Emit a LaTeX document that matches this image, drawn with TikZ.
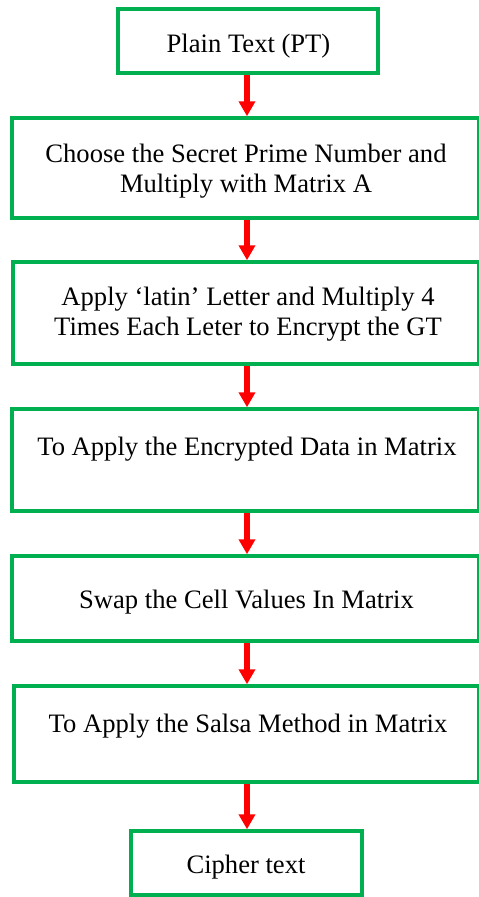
\documentclass[tikz,border=0pt]{standalone}
\usepackage{fontspec}
\setmainfont{Liberation Serif}
\usetikzlibrary{arrows.meta}
\definecolor{boxgreen}{HTML}{00B050}
\definecolor{arrred}{HTML}{FF0000}
\begin{document}
\begin{tikzpicture}[x=1pt,y=-1pt,
  stepbox/.style={draw=boxgreen,line width=3.5pt,rectangle,inner sep=0pt},
  lbl/.style={font=\fontsize{26.6}{30}\selectfont,align=center,inner sep=0pt},
  flow/.style={draw=arrred,line width=5.5pt,-{Triangle[width=16pt,length=15pt]}}]
\useasboundingbox (0,0) rectangle (479,897);
\coordinate (ax) at (247,0);
% boxes
\node[stepbox,minimum width=260pt,minimum height=64pt] (b1) at (248,41) {};
\node[stepbox,minimum width=467pt,minimum height=100pt] (b2) at (245.5,168) {};
\node[stepbox,minimum width=466pt,minimum height=102pt] (b3) at (246,313) {};
\node[stepbox,minimum width=467pt,minimum height=102pt] (b4) at (245.5,460) {};
\node[stepbox,minimum width=467pt,minimum height=85pt] (b5) at (245.5,598.5) {};
\node[stepbox,minimum width=465pt,minimum height=96pt] (b6) at (246.5,734) {};
\node[stepbox,minimum width=231pt,minimum height=64pt] (b7) at (246.5,863) {};
% texts
\node[lbl,anchor=base] (t1) at (248.5,52) {Plain Text (PT)};
\node[lbl] (t2) at (246,170.8) {Choose the Secret Prime Number and\\Multiply with Matrix A};
\node[lbl] (t3) at (248,314.3) {Apply ‘latin’ Letter and Multiply 4\\Times Each Leter to Encrypt the GT};
\node[lbl,anchor=base] (t4) at (247,455) {To Apply the Encrypted Data in Matrix};
\node[lbl,anchor=base] (t5) at (246.5,608) {Swap the Cell Values In Matrix};
\node[lbl,anchor=base] (t6) at (248,732) {To Apply the Salsa Method in Matrix};
\node[lbl,anchor=base] (t7) at (246,873) {Cipher text};
% arrows
\draw[flow] (b1.south -| ax) -- (b2.north -| ax);
\draw[flow] (b2.south -| ax) -- (b3.north -| ax);
\draw[flow] (b3.south -| ax) -- (b4.north -| ax);
\draw[flow] (b4.south -| ax) -- (b5.north -| ax);
\draw[flow] (b5.south -| ax) -- (b6.north -| ax);
\draw[flow] (b6.south -| ax) -- (b7.north -| ax);
\end{tikzpicture}
\end{document}
